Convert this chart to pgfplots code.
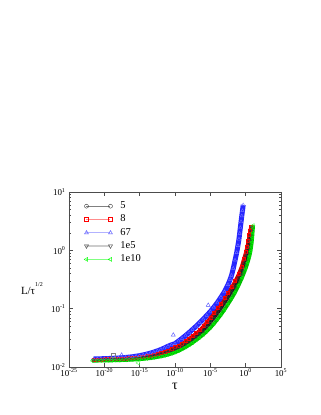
\documentclass[border=0pt]{standalone}
\usepackage{fontspec}
\setmainfont{Liberation Serif}
\usepackage{pgfplots}
\pgfplotsset{compat=1.18}
\usepackage{pgfplotstable}

% series "5"
\pgfplotstableread{
lx ly
-21.5 -1.872
-21.0 -1.871
-20.5 -1.870
-20.0 -1.868
-19.5 -1.867
-19.0 -1.865
-18.5 -1.863
-18.0 -1.861
-17.5 -1.858
-17.0 -1.855
-16.5 -1.851
-16.0 -1.847
-15.5 -1.841
-15.0 -1.834
-14.5 -1.826
-14.0 -1.818
-13.5 -1.807
-13.0 -1.796
-12.5 -1.782
-12.0 -1.766
-11.5 -1.749
-11.0 -1.730
-10.5 -1.708
-10.0 -1.683
-9.5 -1.655
-9.0 -1.624
-8.5 -1.589
-8.0 -1.550
-7.5 -1.510
-7.0 -1.470
-6.5 -1.422
-6.0 -1.370
-5.5 -1.290
-5.0 -1.210
-4.5 -1.130
-4.0 -1.050
-3.5 -0.960
-3.0 -0.870
-2.5 -0.775
-2.0 -0.680
-1.5 -0.580
-1.0 -0.465
-0.6 -0.350
-0.3 -0.230
0.0 -0.100
0.2 0.000
0.4 0.120
0.55 0.220
0.68 0.310
0.8 0.400
}\dataA

% series "8"
\pgfplotstableread{
lx ly
-21.5 -1.870
-21.0 -1.869
-20.5 -1.868
-20.0 -1.866
-19.5 -1.865
-19.0 -1.863
-18.5 -1.860
-18.0 -1.858
-17.5 -1.855
-17.0 -1.851
-16.5 -1.847
-16.0 -1.842
-15.5 -1.836
-15.0 -1.829
-14.5 -1.821
-14.0 -1.812
-13.5 -1.800
-13.0 -1.787
-12.5 -1.772
-12.0 -1.755
-11.5 -1.735
-11.0 -1.713
-10.5 -1.688
-10.0 -1.660
-9.5 -1.630
-9.0 -1.595
-8.5 -1.555
-8.0 -1.510
-7.5 -1.465
-7.0 -1.420
-6.5 -1.365
-6.0 -1.300
-5.5 -1.225
-5.0 -1.150
-4.5 -1.070
-4.0 -0.990
-3.5 -0.910
-3.0 -0.820
-2.5 -0.725
-2.0 -0.630
-1.5 -0.525
-1.0 -0.400
-0.6 -0.275
-0.3 -0.150
0.0 -0.030
0.2 0.070
0.35 0.160
0.5 0.260
0.6 0.330
0.7 0.400
}\dataB

% series "67"
\pgfplotstableread{
lx ly
-21.5 -1.862
-21.0 -1.861
-20.5 -1.859
-20.0 -1.857
-19.5 -1.855
-19.0 -1.852
-18.5 -1.849
-18.0 -1.846
-17.5 -1.842
-17.0 -1.837
-16.5 -1.831
-16.0 -1.824
-15.5 -1.815
-15.0 -1.805
-14.5 -1.793
-14.0 -1.779
-13.5 -1.763
-13.0 -1.745
-12.5 -1.724
-12.0 -1.700
-11.5 -1.675
-11.0 -1.645
-10.5 -1.620
-10.0 -1.600
-9.5 -1.555
-9.0 -1.510
-8.5 -1.460
-8.0 -1.410
-7.5 -1.355
-7.0 -1.300
-6.5 -1.240
-6.0 -1.180
-5.5 -1.115
-5.0 -1.050
-4.5 -0.975
-4.0 -0.895
-3.5 -0.805
-3.0 -0.710
-2.5 -0.590
-2.2 -0.500
-2.0 -0.430
-1.75 -0.310
-1.5 -0.170
-1.27 -0.040
-1.1 0.080
-0.95 0.190
-0.85 0.290
-0.75 0.390
-0.65 0.490
-0.55 0.590
-0.45 0.680
-0.35 0.780
}\dataC

% series "1e5"
\pgfplotstableread{
lx ly
-21.6 -1.880
-21.0 -1.879
-20.5 -1.878
-20.0 -1.877
-19.5 -1.876
-19.0 -1.874
-18.5 -1.872
-18.0 -1.870
-17.5 -1.868
-17.0 -1.865
-16.5 -1.862
-16.0 -1.858
-15.5 -1.853
-15.0 -1.847
-14.5 -1.840
-14.0 -1.832
-13.5 -1.822
-13.0 -1.812
-12.5 -1.799
-12.0 -1.785
-11.5 -1.768
-11.0 -1.748
-10.5 -1.725
-10.0 -1.700
-9.5 -1.673
-9.0 -1.643
-8.5 -1.610
-8.0 -1.575
-7.5 -1.537
-7.0 -1.495
-6.5 -1.445
-6.0 -1.390
-5.5 -1.320
-5.0 -1.250
-4.5 -1.175
-4.0 -1.095
-3.5 -1.010
-3.0 -0.920
-2.5 -0.825
-2.0 -0.730
-1.5 -0.630
-1.0 -0.520
-0.6 -0.415
-0.3 -0.310
0.0 -0.190
0.25 -0.070
0.45 0.050
0.6 0.150
0.72 0.250
0.82 0.330
0.9 0.390
}\dataD

% series "1e10"
\pgfplotstableread{
lx ly
-21.7 -1.895
-21.0 -1.893
-20.5 -1.892
-20.0 -1.891
-19.5 -1.890
-19.0 -1.889
-18.5 -1.888
-18.0 -1.886
-17.5 -1.884
-17.0 -1.882
-16.5 -1.879
-16.0 -1.876
-15.5 -1.872
-15.0 -1.868
-14.5 -1.863
-14.0 -1.857
-13.5 -1.850
-13.0 -1.841
-12.5 -1.831
-12.0 -1.820
-11.5 -1.806
-11.0 -1.790
-10.5 -1.771
-10.0 -1.750
-9.5 -1.724
-9.0 -1.695
-8.5 -1.662
-8.0 -1.625
-7.5 -1.584
-7.0 -1.540
-6.5 -1.494
-6.0 -1.445
-5.5 -1.390
-5.0 -1.330
-4.5 -1.260
-4.0 -1.185
-3.5 -1.105
-3.0 -1.020
-2.5 -0.925
-2.0 -0.830
-1.5 -0.725
-1.0 -0.605
-0.5 -0.470
0.0 -0.320
0.3 -0.210
0.55 -0.100
0.7 -0.020
0.8 0.060
0.88 0.140
0.95 0.220
1.0 0.300
1.05 0.380
1.08 0.430
}\dataE

% scattered single points lying off the bands
\pgfplotstableread{
lx ly
-17.55 -1.794
-10.24 -1.450
-5.3 -0.940
}\outC
\pgfplotstableread{
lx ly
-18.7 -1.806
}\outB
\pgfplotstableread{
lx ly
-15.2 -1.930
}\outE

\begin{document}
\begin{tikzpicture}
\path[use as bounding box] (0,0) rectangle (321bp,415bp);
\begin{axis}[
  at={(69bp,48bp)}, anchor=south west,
  scale only axis, width=212bp, height=175bp,
  xmode=log, ymode=log,
  xmin=1e-25, xmax=1e5, ymin=1e-2, ymax=10,
  xtick={1e-25,1e-20,1e-15,1e-10,1e-5,1,1e5},
  xticklabels={10\textsuperscript{-25},10\textsuperscript{-20},10\textsuperscript{-15},10\textsuperscript{-10},10\textsuperscript{-5},10\textsuperscript{0},10\textsuperscript{5}},
  minor xtick={},
  ytick={0.01,0.1,1,10},
  yticklabels={10\textsuperscript{-2},10\textsuperscript{-1},10\textsuperscript{0},10\textsuperscript{1}},
  minor ytick={0.02,0.03,0.04,0.05,0.06,0.07,0.08,0.09,0.2,0.3,0.4,0.5,0.6,0.7,0.8,0.9,2,3,4,5,6,7,8,9},
  tick align=inside,
  major tick length=4bp, minor tick length=2bp,
  axis line style={black!70, line width=0.5pt},
  every tick/.style={black!70, line width=0.4pt},
  tick label style={font=\fontsize{9}{9}\selectfont},
  xticklabel style={yshift=2bp},
  xlabel={τ},
  xlabel style={at={(axis description cs:0.5,-0.11)}, anchor=center, font=\fontsize{14}{14}\selectfont},
  ylabel={L/τ\raisebox{8bp}{\fontsize{6}{6}\selectfont 1/2}},
  ylabel style={rotate=-90, at={(axis description cs:-0.175,0.45)}, anchor=center, font=\fontsize{11}{11}\selectfont},
  legend image code/.code={\draw[mark repeat=2,mark phase=1,#1] plot coordinates {(0bp,0bp) (12bp,0bp) (24bp,0bp)};},
  legend style={draw=none, fill=none, at={(0,1)}, anchor=north west, xshift=15bp, yshift=-8bp,
    inner sep=0pt, row sep=1.3bp,
    nodes={inner sep=1bp, font=\fontsize{10.5}{10.5}\selectfont, text height=7.5bp, text depth=2.5bp},
    /tikz/every odd column/.append style={column sep=7bp}},
  legend cell align=left,
]
\addplot[draw=black!85, line width=2.5pt, mark=o, mark size=1.6bp, mark options={draw=black!80, line width=0.4pt},
  legend image post style={draw=black!50, line width=0.5pt, mark size=2bp}]
  table[x expr={10^(\thisrow{lx})}, y expr={10^(\thisrow{ly})}] {\dataA};
\addlegendentry{5}
\addplot[draw=red!80!black, line width=3pt, mark=square, mark size=1.5bp, mark options={draw=red, line width=0.4pt},
  legend image post style={draw=red!45, line width=0.5pt, mark size=1.8bp}]
  table[x expr={10^(\thisrow{lx})}, y expr={10^(\thisrow{ly})}] {\dataB};
\addlegendentry{8}
\addplot[draw=blue!85, line width=5pt, mark=triangle, mark size=1.9bp, mark options={draw=blue!55, line width=0.4pt},
  legend image post style={draw=blue!30, line width=1.4pt, mark size=2.3bp, mark options={draw=blue!70,line width=0.4pt}}]
  table[x expr={10^(\thisrow{lx})}, y expr={10^(\thisrow{ly})}] {\dataC};
\addlegendentry{67}
\addplot[draw=black!90, line width=2.5pt, mark=triangle, mark size=1.9bp, mark options={draw=black!75, line width=0.4pt, rotate=180},
  legend image post style={draw=black!20, line width=1.4pt, mark size=2.3bp}]
  table[x expr={10^(\thisrow{lx})}, y expr={10^(\thisrow{ly})}] {\dataD};
\addlegendentry{1e5}
\addplot[draw=green!75!black, line width=3.5pt, mark=triangle, mark size=1.9bp, mark options={draw=green, line width=0.4pt, rotate=90},
  legend image post style={draw=green!50, line width=0.5pt, mark size=2.3bp}]
  table[x expr={10^(\thisrow{lx})}, y expr={10^(\thisrow{ly})}] {\dataE};
\addlegendentry{1e10}
\addplot[only marks, forget plot, mark=triangle, mark size=2.3bp, mark options={draw=blue!70, line width=0.4pt}]
  table[x expr={10^(\thisrow{lx})}, y expr={10^(\thisrow{ly})}] {\outC};
\addplot[only marks, forget plot, mark=square, mark size=2bp, mark options={draw=black!50, line width=0.4pt}]
  table[x expr={10^(\thisrow{lx})}, y expr={10^(\thisrow{ly})}] {\outB};
\addplot[only marks, forget plot, mark=triangle, mark size=2.3bp, mark options={draw=green!70, line width=0.4pt, rotate=90}]
  table[x expr={10^(\thisrow{lx})}, y expr={10^(\thisrow{ly})}] {\outE};
\end{axis}
\end{tikzpicture}
\end{document}
